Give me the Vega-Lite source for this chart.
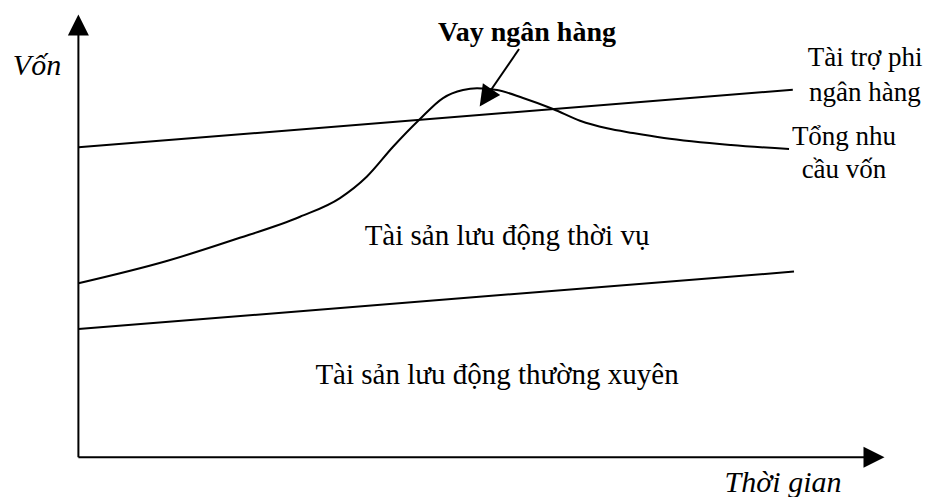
{
  "$schema": "https://vega.github.io/schema/vega-lite/v6.json",
  "width": 928,
  "height": 497,
  "padding": 0,
  "autosize": {"type": "none"},
  "background": "white",
  "config": {"view": {"stroke": null}},
  "datasets": {
    "curves": [
      {"series": "Tài trợ phi ngân hàng", "t": 0, "v": 62.35},
      {"series": "Tài trợ phi ngân hàng", "t": 89.3, "v": 73.96},
      {"series": "Tài sản lưu động thường xuyên", "t": 0, "v": 25.8},
      {"series": "Tài sản lưu động thường xuyên", "t": 89.45, "v": 37.36},
      {"series": "Tổng nhu cầu vốn", "t": 0, "v": 35.0},
      {"series": "Tổng nhu cầu vốn", "t": 11.04, "v": 39.48},
      {"series": "Tổng nhu cầu vốn", "t": 19.33, "v": 43.7},
      {"series": "Tổng nhu cầu vốn", "t": 27.7, "v": 48.39},
      {"series": "Tổng nhu cầu vốn", "t": 32.7, "v": 52.15},
      {"series": "Tổng nhu cầu vốn", "t": 36.04, "v": 56.44},
      {"series": "Tổng nhu cầu vốn", "t": 39.33, "v": 62.47},
      {"series": "Tổng nhu cầu vốn", "t": 42.7, "v": 68.05},
      {"series": "Tổng nhu cầu vốn", "t": 45.58, "v": 72.27},
      {"series": "Tổng nhu cầu vốn", "t": 48.08, "v": 73.88},
      {"series": "Tổng nhu cầu vốn", "t": 49.83, "v": 74.23},
      {"series": "Tổng nhu cầu vốn", "t": 52.33, "v": 73.88},
      {"series": "Tổng nhu cầu vốn", "t": 55.58, "v": 72.27},
      {"series": "Tổng nhu cầu vốn", "t": 59.33, "v": 70.06},
      {"series": "Tổng nhu cầu vốn", "t": 62.7, "v": 67.71},
      {"series": "Tổng nhu cầu vốn", "t": 66.08, "v": 66.18},
      {"series": "Tổng nhu cầu vốn", "t": 69.33, "v": 65.23},
      {"series": "Tổng nhu cầu vốn", "t": 73.2, "v": 64.23},
      {"series": "Tổng nhu cầu vốn", "t": 81.58, "v": 62.82},
      {"series": "Tổng nhu cầu vốn", "t": 88.83, "v": 62.01}
    ],
    "segments": [
      {"name": "trục vốn", "t": 0, "v": 0, "t2": 0, "v2": 84.95},
      {"name": "trục thời gian", "t": 0, "v": 0, "t2": 98.2, "v2": 0},
      {"name": "vay ngân hàng", "t": 55.08, "v": 82.13, "t2": 51.61, "v2": 73.98}
    ],
    "heads": [
      {"name": "trục vốn", "t": 0, "v": 86.96, "angle": 0},
      {"name": "trục thời gian", "t": 99.45, "v": 0, "angle": 90},
      {"name": "vay ngân hàng", "t": 50.9, "v": 72.33, "angle": 214.4}
    ],
    "labels": [
      {"role": "axis", "text": "Vốn", "t": -5.18, "v": 76.9},
      {"role": "axis", "text": "Thời gian", "t": 88.08, "v": -7.0},
      {"role": "callout", "text": "Vay ngân hàng", "t": 56.08, "v": 83.74},
      {"role": "end", "text": "Tài trợ phi", "t": 98.35, "v": 78.77},
      {"role": "end", "text": "ngân hàng", "t": 98.3, "v": 71.77},
      {"role": "end", "text": "Tổng nhu", "t": 95.7, "v": 62.82},
      {"role": "end", "text": "cầu vốn", "t": 95.7, "v": 56.18},
      {"role": "region", "text": "Tài sản lưu động thời vụ", "t": 53.58, "v": 42.7},
      {"role": "region", "text": "Tài sản lưu động thường xuyên", "t": 52.33, "v": 14.73}
    ]
  },
  "encoding": {
    "x": {"field": "t", "type": "quantitative", "axis": null, "scale": {"domain": [-9.8, 106.2], "nice": false, "zero": false}},
    "y": {"field": "v", "type": "quantitative", "axis": null, "scale": {"domain": [-8, 92], "nice": false, "zero": false}}
  },
  "layer": [
    {
      "data": {"name": "segments"},
      "mark": {"type": "rule", "color": "black", "strokeWidth": 2},
      "encoding": {
        "x2": {"field": "t2"},
        "y2": {"field": "v2"}
      }
    },
    {
      "data": {"name": "heads"},
      "mark": {"type": "point", "shape": "M0,-1L1,1L-1,1Z", "filled": true, "color": "black", "opacity": 1, "size": 441, "strokeWidth": 0},
      "encoding": {
        "angle": {"field": "angle", "type": "quantitative", "scale": null}
      }
    },
    {
      "data": {"name": "curves"},
      "mark": {"type": "line", "color": "black", "strokeWidth": 2, "interpolate": "monotone"},
      "encoding": {
        "detail": {"field": "series", "type": "nominal"}
      }
    },
    {
      "data": {"name": "labels"},
      "transform": [{"filter": "datum.role === 'region'"}],
      "mark": {"type": "text", "font": "Liberation Serif", "fontSize": 29, "align": "center", "baseline": "alphabetic", "color": "black"},
      "encoding": {"text": {"field": "text"}}
    },
    {
      "data": {"name": "labels"},
      "transform": [{"filter": "datum.role === 'end'"}],
      "mark": {"type": "text", "font": "Liberation Serif", "fontSize": 27, "align": "center", "baseline": "alphabetic", "color": "black"},
      "encoding": {"text": {"field": "text"}}
    },
    {
      "data": {"name": "labels"},
      "transform": [{"filter": "datum.role === 'axis'"}],
      "mark": {"type": "text", "font": "Liberation Serif", "fontSize": 30, "fontStyle": "italic", "align": "center", "baseline": "alphabetic", "color": "black"},
      "encoding": {"text": {"field": "text"}}
    },
    {
      "data": {"name": "labels"},
      "transform": [{"filter": "datum.role === 'callout'"}],
      "mark": {"type": "text", "font": "Liberation Serif", "fontSize": 28, "fontWeight": "bold", "align": "center", "baseline": "alphabetic", "color": "black"},
      "encoding": {"text": {"field": "text"}}
    }
  ]
}
